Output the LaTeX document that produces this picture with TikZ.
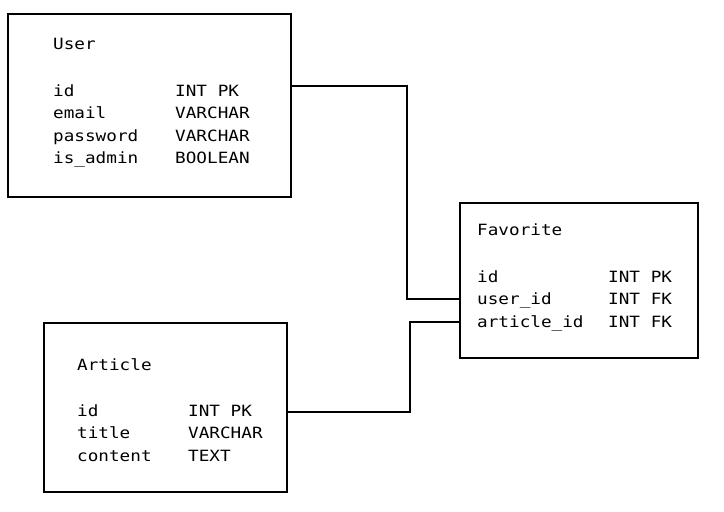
\documentclass[tikz,border=0pt]{standalone}
\usepackage{fontspec}
\newfontfamily\erdmono[FakeStretch=1.14]{DejaVu Sans Mono}
\begin{document}
\begin{tikzpicture}[x=1pt,y=-1pt,
  table/.style={draw=black,line width=2pt,rectangle,inner sep=0pt,fill=white},
  txt/.style={anchor=base west,inner sep=0pt,font=\erdmono\fontsize{15.5}{18}\selectfont,text=black},
  link/.style={draw=black,line width=2pt}]
\useasboundingbox (0,0) rectangle (724,512);
\fill[white] (0,0) rectangle (724,512);
% boxes
\node[table,minimum width=283pt,minimum height=183pt] (user) at (149.5,105.5) {};
\node[table,minimum width=238pt,minimum height=155pt] (fav) at (579,280.5) {};
\node[table,minimum width=243pt,minimum height=168.5pt] (art) at (165.5,407.25) {};
% User text
\node[txt] (ut) at (53,49.3) {User};
\node[txt] (u1a) at (53,96) {id};
\node[txt] (u1b) at (175,96) {INT PK};
\node[txt] (u2a) at (53,118.5) {email};
\node[txt] (u2b) at (175,118.5) {VARCHAR};
\node[txt] (u3a) at (53,141) {password};
\node[txt] (u3b) at (175,141) {VARCHAR};
\node[txt] (u4a) at (53,163.5) {is\_admin};
\node[txt] (u4b) at (175,163.5) {BOOLEAN};
% Favorite text
\node[txt] (ft) at (477,235.7) {Favorite};
\node[txt] (f1a) at (477,282) {id};
\node[txt] (f1b) at (608,282) {INT PK};
\node[txt] (f2a) at (477,304.5) {user\_id};
\node[txt] (f2b) at (608,304.5) {INT FK};
\node[txt] (f3a) at (477,327) {article\_id};
\node[txt] (f3b) at (608,327) {INT FK};
% Article text
\node[txt] (at) at (77,370) {Article};
\node[txt] (a1a) at (77,416) {id};
\node[txt] (a1b) at (188,416) {INT PK};
\node[txt] (a2a) at (77,438.5) {title};
\node[txt] (a2b) at (188,438.5) {VARCHAR};
\node[txt] (a3a) at (77,461) {content};
\node[txt] (a3b) at (188,461) {TEXT};
% connectors
\coordinate (j1a) at (406.7,85.7);
\coordinate (j1b) at (406.7,299);
\coordinate (j2a) at (409.7,321.7);
\coordinate (j2b) at (409.7,411.7);
\draw[link] (j1a -| user.east) -- (j1a) -- (j1b) -- (j1b -| fav.west);
\draw[link] (j2a -| fav.west) -- (j2a) -- (j2b) -- (j2b -| art.east);
\end{tikzpicture}
\end{document}
